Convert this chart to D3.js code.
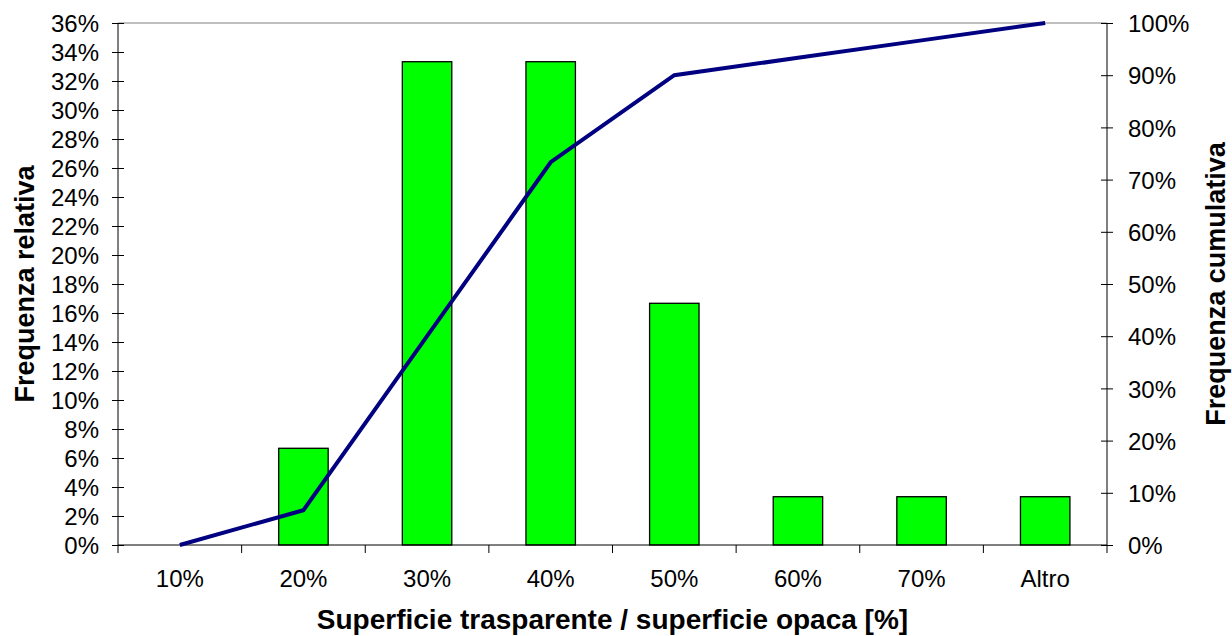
<!DOCTYPE html>
<html>
<head>
<meta charset="utf-8">
<script src="https://cdn.jsdelivr.net/npm/d3@7"></script>
<style>
  body { margin: 0; background: #fff; }
  svg { font-family: Arial, "Liberation Sans", sans-serif; }
</style>
</head>
<body>
<div id="chart"></div>
<script>
// categories and values (relative frequency, cumulative frequency)
var categories = ["10%", "20%", "30%", "40%", "50%", "60%", "70%", "Altro"];
var relative = [0, 0.0667, 0.3333, 0.3333, 0.1667, 0.0333, 0.0333, 0.0333];
var cumulative = [0, 0.0667, 0.40, 0.7333, 0.90, 0.9333, 0.9667, 1.0];
var leftTicks = d3.range(0, 0.3601, 0.02);
var rightTicks = d3.range(0, 1.001, 0.1);

var W = 1232, H = 636;
var margin = { top: 23, right: 125, bottom: 91, left: 118 },
    width = W - margin.left - margin.right,
    height = H - margin.top - margin.bottom;

var svg = d3.select("#chart")
    .append("svg")
    .attr("width", W)
    .attr("height", H)
    .append("g")
    .attr("transform", "translate(" + margin.left + "," + margin.top + ")");

// category slots
var xc = d3.scaleBand().domain(categories).range([0, width]);

var y = d3.scaleLinear().domain([0, 0.36]).range([height, 0]);
var y2 = d3.scaleLinear().domain([0, 1]).range([height, 0]);

// top border
svg.append("line")
    .attr("x1", 0).attr("x2", width)
    .attr("y1", 0).attr("y2", 0)
    .attr("stroke", "#808080")
    .attr("stroke-width", 1);

// bars
svg.append("g")
    .selectAll("rect")
    .data(categories)
    .enter()
    .append("rect")
    .attr("x", d => xc(d) + xc.bandwidth() * 0.3)
    .attr("width", xc.bandwidth() * 0.4)
    .attr("y", (d, i) => y(relative[i]))
    .attr("height", (d, i) => height - y(relative[i]))
    .attr("fill", "#00ff00")
    .attr("stroke", "#000")
    .attr("stroke-width", 1.3);

// x axis
var xAxis = svg.append("g")
    .attr("transform", "translate(0," + height + ")");
xAxis.append("line")
    .attr("x1", 0).attr("x2", width)
    .attr("stroke", "#000").attr("stroke-width", 1);
xAxis.selectAll(".tk")
    .data(categories.concat(["end"]))
    .enter()
    .append("line")
    .attr("x1", (d, i) => i * xc.bandwidth())
    .attr("x2", (d, i) => i * xc.bandwidth())
    .attr("y1", 0).attr("y2", 8)
    .attr("stroke", "#000");
xAxis.selectAll("text")
    .data(categories)
    .enter()
    .append("text")
    .attr("x", d => xc(d) + xc.bandwidth() / 2)
    .attr("y", 42)
    .attr("text-anchor", "middle")
    .style("font-size", "24px")
    .text(d => d);

// left axis
var fmt = d3.format(".0%");
var left = svg.append("g").call(d3.axisLeft(y).tickValues(leftTicks).tickFormat(fmt).tickSize(6));
left.attr("font-family", null).attr("font-size", null);
left.selectAll(".tick line").attr("x2", 6).attr("x1", -6);
left.select(".domain").attr("d", "M0,0V" + height);
left.selectAll("text").style("font-size", "24px").attr("x", -19).attr("dy", "0.36em");

// right axis
var right = svg.append("g")
    .attr("transform", "translate(" + width + ",0)")
    .call(d3.axisRight(y2).tickValues(rightTicks).tickFormat(fmt).tickSize(6));
right.attr("font-family", null).attr("font-size", null);
right.selectAll(".tick line").attr("x1", -6).attr("x2", 6);
right.select(".domain").attr("d", "M0,0V" + height);
right.selectAll("text").style("font-size", "24px").attr("x", 21).attr("dy", "0.36em");

// cumulative line
var line = d3.line()
    .x((d, i) => xc(categories[i]) + xc.bandwidth() / 2)
    .y(d => y2(d));
svg.append("path")
    .datum(cumulative)
    .attr("d", line)
    .attr("fill", "none")
    .attr("stroke", "#000080")
    .attr("stroke-width", 4)
    .attr("stroke-linejoin", "miter");

// axis titles
svg.append("text")
    .attr("x", width / 2)
    .attr("y", height + 84)
    .attr("text-anchor", "middle")
    .style("font-size", "28px")
    .style("font-weight", "bold")
    .text("Superficie trasparente / superficie opaca [%]");

svg.append("text")
    .attr("transform", "translate(" + (34 - margin.left) + "," + (height / 2) + ") rotate(-90)")
    .attr("text-anchor", "middle")
    .style("font-size", "27px")
    .style("font-weight", "bold")
    .text("Frequenza relativa");

svg.append("text")
    .attr("transform", "translate(" + (1225 - margin.left) + "," + (height / 2) + ") rotate(-90)")
    .attr("text-anchor", "middle")
    .style("font-size", "27px")
    .style("font-weight", "bold")
    .text("Frequenza cumulativa");
</script>
</body>
</html>
